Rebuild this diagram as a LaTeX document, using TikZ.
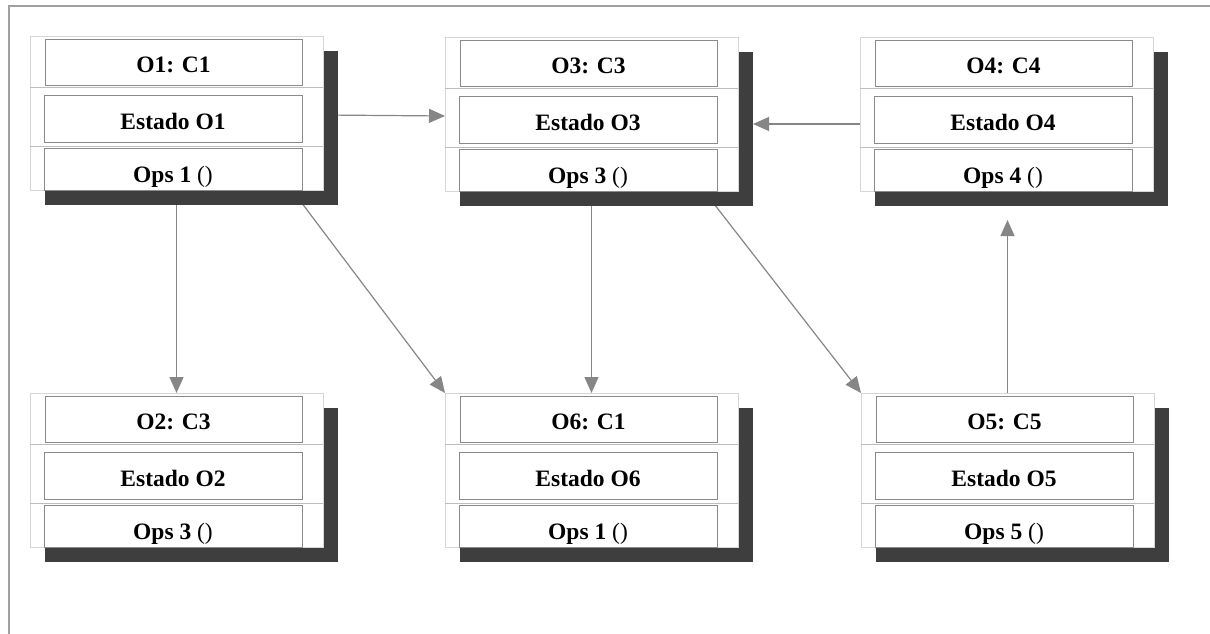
\documentclass[tikz,border=0pt]{standalone}
\usepackage{fontspec}
\setmainfont{Liberation Serif}
\usetikzlibrary{arrows.meta}
\definecolor{sombracol}{HTML}{3E3E3E}
\definecolor{bordeclaro}{HTML}{D6D6D6}
\definecolor{sepcol}{HTML}{BDBDBD}
\definecolor{celdacol}{HTML}{8A8A8A}
\definecolor{conncol}{HTML}{868686}
\definecolor{marcocol}{HTML}{A0A0A0}
\pgfdeclarelayer{fondo}
\pgfsetlayers{fondo,main}

\tikzset{
  sombra/.style={fill=sombracol, draw=none, minimum width=293pt, minimum height=154pt,
    inner sep=0pt, outer sep=0pt, anchor=north west},
  caja/.style={fill=white, draw=bordeclaro, line width=0.8pt, minimum width=293pt,
    minimum height=154pt, inner sep=0pt, outer sep=0pt, anchor=north west},
  sep/.style={draw=sepcol, line width=0.8pt},
  celda/.style={fill=white, draw=celdacol, line width=0.8pt, inner sep=0pt, outer sep=0pt,
    anchor=north west, text height=24pt, text depth=2.4pt,
    font=\fontsize{23.5}{28}\selectfont\bfseries},
  celdabaja/.style={celda, text height=29pt},
  conn/.style={draw=conncol, line width=1.2pt,
    -{Triangle[length=16pt,width=14pt,fill=conncol]}},
  marco/.style={draw=marcocol, line width=1.5pt},
}

% one object: name, left x, top y, title, state, operations
\newcommand\objeto[6]{%
  \node[sombra] (#1s) at (#2+15,#3+15) {};
  \node[caja] (#1) at (#2,#3) {};
  \draw[sep] (#2,#3+51) -- ++(293,0);
  \draw[sep] (#2,#3+110) -- ++(293,0);
  \node[celda, minimum width=257pt, minimum height=46pt] (#1a) at (#2+15,#3+3) {#4};
  \node[celda, minimum width=258pt, minimum height=47pt] (#1b) at (#2+14,#3+59) {#5};
  \node[celdabaja, minimum width=258pt, minimum height=42pt] (#1c) at (#2+14,#3+112) {#6};
}
\newcommand\ops[1]{Ops #1 {\mdseries ()}}

\begin{document}
\begin{tikzpicture}[x=1pt, y=-1pt]
  \useasboundingbox (0,0) rectangle (1210,634);

  \objeto{o1}{30}{36}{O1: C1}{Estado O1}{\ops{1}}
  \objeto{o3}{445}{37}{O3: C3}{Estado O3}{\ops{3}}
  \objeto{o4}{860}{37}{O4: C4}{Estado O4}{\ops{4}}
  \objeto{o2}{30}{393}{O2: C3}{Estado O2}{\ops{3}}
  \objeto{o6}{445}{393}{O6: C1}{Estado O6}{\ops{1}}
  \objeto{o5}{861}{393}{O5: C5}{Estado O5}{\ops{5}}

  \begin{pgfonlayer}{fondo}
    % frame
    \coordinate (esq) at (9,6);
    \coordinate (der) at (1210,6);
    \coordinate (inf) at (9,634);
    \draw[marco] (der) -- (esq) -- (inf);

    % connectors
    \draw[conn] ([yshift=-2pt]o1.east) -- ([yshift=-2pt]o3.west);
    \draw[conn] ([yshift=-10pt]o4.west) -- ([yshift=-10pt]o4.west -| o3s.east);
    \draw[conn] (o1.south) -- (o2.north);
    \draw[conn] ([xshift=-31pt]o1.south east) -- (o6.north west);
    \draw[conn] (o3.south) -- (o6.north);
    \draw[conn] ([xshift=-34pt]o3.south east) -- (o5.north west);
    \draw[conn, shorten >=14pt] (o5.north) -- (o5.north |- o4s.south);
  \end{pgfonlayer}
\end{tikzpicture}
\end{document}
